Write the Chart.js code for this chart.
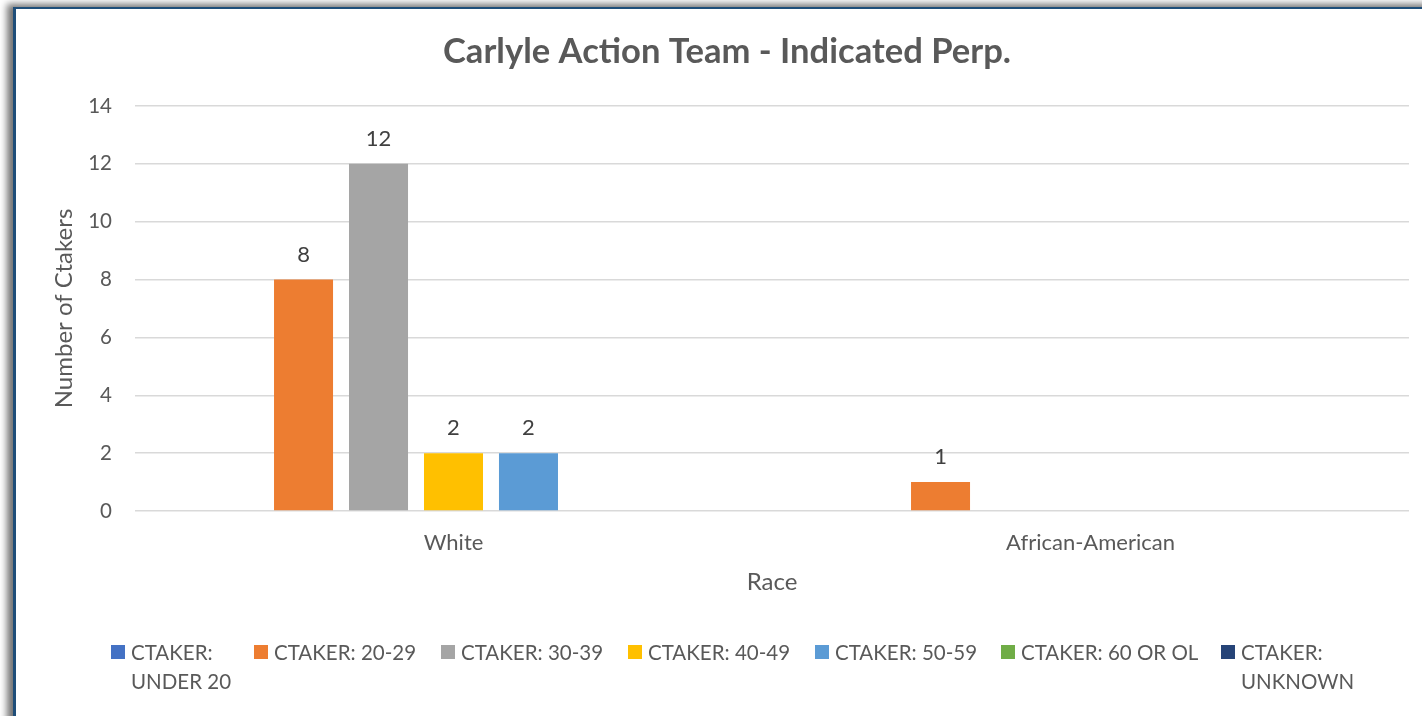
<!DOCTYPE html>
<html>
<head>
<meta charset="utf-8">
<script src="https://cdn.jsdelivr.net/npm/chart.js@4"></script>
<style>
  html, body { margin:0; padding:0; width:1422px; height:716px; overflow:hidden; background:#fff; font-family: Lato, "Open Sans", sans-serif; }
  #frame { position:absolute; left:13px; top:7px; width:1460px; height:760px; background:#fff;
           border-left:3px solid #1F4E79; border-top:2px solid #1F4E79;
           box-shadow:-6px -3px 7px rgba(0,0,0,0.55); }
  #wrap { position:absolute; left:16px; top:10px; width:1422px; height:706px; }
  #c { display:block; width:1422px; height:706px; }
  #legend { position:absolute; left:0; top:0; width:1422px; height:716px; pointer-events:none; }
  .li { position:absolute; top:638px; color:#595959; font-size:20.5px; line-height:29px; font-family:Lato, sans-serif; }
  .li .box { position:absolute; left:-20px; top:7px; width:14px; height:14px; }
</style>
</head>
<body>
<div id="frame"></div>
<div id="wrap"><canvas id="c" width="1422" height="706"></canvas></div>
<div id="legend"></div>
<script>
const categories = ["White", "African-American"];
const seriesNames = ["CTAKER: UNDER 20", "CTAKER: 20-29", "CTAKER: 30-39", "CTAKER: 40-49", "CTAKER: 50-59", "CTAKER: 60 OR OL", "CTAKER: UNKNOWN"];
const under20 = [null, null];
const age20to29 = [8, 1];
const age30to39 = [12, null];
const age40to49 = [2, null];
const age50to59 = [2, null];
const age60plus = [null, null];
const unknownAge = [null, null];
const yTicks = [0, 2, 4, 6, 8, 10, 12, 14];

const seriesValues = [under20, age20to29, age30to39, age40to49, age50to59, age60plus, unknownAge];
const colors = ["#4472C4", "#ED7D31", "#A5A5A5", "#FFC000", "#5B9BD5", "#70AD47", "#264478"];

const FONT = "Lato, 'Open Sans', sans-serif";

const valueLabels = {
  id: 'valueLabels',
  afterDatasetsDraw(chart) {
    const ctx = chart.ctx;
    ctx.save();
    ctx.font = "22px " + FONT;
    ctx.fillStyle = "#404040";
    ctx.textAlign = "center";
    ctx.textBaseline = "middle";
    chart.data.datasets.forEach((ds, i) => {
      const meta = chart.getDatasetMeta(i);
      meta.data.forEach((bar, j) => {
        const v = ds.data[j];
        if (v === null || v === undefined) return;
        ctx.fillText(String(v), bar.x, bar.y - 25);
      });
    });
    ctx.restore();
  }
};

const chart = new Chart(document.getElementById('c'), {
  type: 'bar',
  data: {
    labels: categories,
    datasets: seriesNames.map((n, i) => ({
      label: n,
      data: seriesValues[i],
      backgroundColor: colors[i],
      borderWidth: 0,
      categoryPercentage: 0.824,
      barPercentage: 0.787
    }))
  },
  options: {
    responsive: false,
    maintainAspectRatio: false,
    animation: false,
    devicePixelRatio: 1,
    layout: { padding: { left: 29, right: 29, top: 0, bottom: 115 } },
    plugins: {
      legend: { display: false },
      tooltip: { enabled: false },
      title: {
        display: true,
        text: "Carlyle Action Team - Indicated Perp.",
        color: "#595959",
        font: { family: FONT, size: 34.6, weight: 'bold' },
        padding: { top: 21.2, bottom: 33.3 }
      }
    },
    scales: {
      x: {
        grid: { display: false, drawTicks: false },
        border: { display: false },
        ticks: { color: "#595959", font: { family: FONT, size: 22 }, padding: 19, maxRotation: 0 },
        title: { display: true, text: "Race", color: "#595959", font: { family: FONT, size: 24 }, padding: { top: 0, bottom: 4.6 } },
        afterFit(s) { s.height = 90; }
      },
      y: {
        min: 0, max: 14,
        afterBuildTicks(s) { s.ticks = yTicks.map(v => ({ value: v })); },
        grid: { color: "#d9d9d9", lineWidth: 1.5, drawTicks: false },
        border: { display: false },
        ticks: { color: "#595959", font: { family: FONT, size: 20.5 }, padding: 23 },
        title: { display: true, text: "Number of Ctakers", color: "#595959", font: { family: FONT, size: 24 }, padding: { top: 4.6, bottom: 0 } },
        afterFit(s) { s.width = 90; }
      }
    }
  },
  plugins: [valueLabels]
});

// HTML legend built from series names/colors
const legendX = [111, 254, 441, 628, 815, 1001, 1221];
const legendMaxW = [110, null, null, null, null, null, 120];
const lg = document.getElementById('legend');
seriesNames.forEach((n, i) => {
  const d = document.createElement('div');
  d.className = 'li';
  d.style.left = (legendX[i] + 20) + 'px';
  if (legendMaxW[i]) d.style.width = legendMaxW[i] + 'px'; else d.style.whiteSpace = 'nowrap';
  const b = document.createElement('span');
  b.className = 'box';
  b.style.background = colors[i];
  d.appendChild(b);
  d.appendChild(document.createTextNode(n));
  lg.appendChild(d);
});
</script>
</body>
</html>
